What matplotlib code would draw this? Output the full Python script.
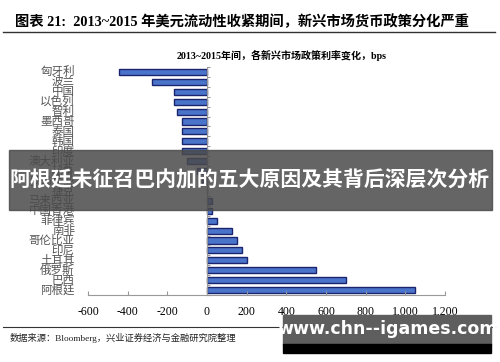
#Recreate the emerging-market policy rate bar chart with overlay banners
import numpy as np
import matplotlib.pyplot as plt
from matplotlib.ticker import FuncFormatter

#Chart data, top row first
countries = ['匈牙利', '波兰', '中国', '以色列', '智利', '墨西哥', '泰国', '韩国', '印度',
             '澳大利亚', '秘鲁', '罗马尼亚', '捷克', '马来西亚', '中国香港', '菲律宾', '南非',
             '哥伦比亚', '印尼', '土耳其', '俄罗斯', '巴西', '阿根廷']
rate_change = [-445, -275, -165, -165, -150, -125, -125, -125, -125,
               -100, -50, -25, 0, 25, 25, 50, 125,
               150, 175, 200, 550, 700, 1050]
x_ticks = [-600, -400, -200, 0, 200, 400, 600, 800, 1000, 1200]

header = '图表 21:  2013~2015 年美元流动性收紧期间，新兴市场货币政策分化严重'
chart_title = '2013~2015年间，各新兴市场政策利率变化，bps'
source = '数据来源：Bloomberg，兴业证券经济与金融研究院整理'
banner = '阿根廷未征召巴内加的五大原因及其背后深层次分析'
watermark = 'www.chn--igames.com'

fonts = ['Liberation Serif', 'Noto Sans CJK SC', 'DejaVu Sans']
plt.rcParams['font.family'] = fonts

fig = plt.figure(figsize=(5, 3.62), dpi=100)
ax = fig.add_axes([0.176, 0.185, 0.714, 0.63])

#Bars
y_pos = np.arange(len(countries))
ax.barh(y_pos, rate_change, height=0.62, color='#4a74c9', edgecolor='#1c2470', linewidth=1.0)
ax.set_ylim(len(countries) - 0.5, -0.5)
ax.set_xlim(x_ticks[0], x_ticks[-1])

#Axis styling: vertical axis sits on zero, ticks at category boundaries
for side in ['top', 'right']:
    ax.spines[side].set_visible(False)
ax.spines['left'].set_position(('data', 0))
ax.spines['left'].set_color('#999999')
ax.spines['bottom'].set_color('#999999')
ax.set_yticks(np.arange(-0.5, len(countries)))
ax.set_yticklabels([])
ax.tick_params(axis='y', direction='in', length=2.5, color='#999999')
ax.set_xticks(x_ticks)
ax.xaxis.set_major_formatter(FuncFormatter(lambda v, p: f'{int(v):,}'))
ax.tick_params(axis='x', direction='in', length=3, color='#999999', labelsize=8.5, pad=8)

#Country names on the left
for y, name in zip(y_pos, countries):
    ax.text(-0.037, y, name, transform=ax.get_yaxis_transform(), ha='right', va='center',
            fontsize=8.3, color='#555555', family=['Noto Sans CJK SC'])

#Header, title and source line
fig.text(0.03, 0.94, header, fontsize=10.3, fontweight='bold', va='center')
fig.add_artist(plt.Line2D([0.006, 0.99], [0.912, 0.912], color='#333333', lw=1.0))
fig.text(0.563, 0.848, chart_title, fontsize=7.2, fontweight='bold', ha='center', va='center')
fig.add_artist(plt.Line2D([0.006, 0.99], [0.097, 0.097], color='#333333', lw=0.8))
fig.text(0.02, 0.066, source, fontsize=6.7, va='center', color='#222222')

#Dark banner across the middle
fig.patches.append(plt.Rectangle((0.018, 0.42), 0.966, 0.166, transform=fig.transFigure,
                                 color='#4a4a4a', alpha=0.85, zorder=5))
fig.text(0.5, 0.503, banner, fontsize=15, fontweight='bold', color='white', ha='center',
         va='center', family=['Noto Sans CJK SC'], zorder=6)

#Watermark box bottom right
fig.patches.append(plt.Rectangle((0.566, 0.047), 0.416, 0.083, transform=fig.transFigure,
                                 color='#5e5e5e', zorder=5))
fig.patches.append(plt.Rectangle((0.566, 0.025), 0.416, 0.024, transform=fig.transFigure,
                                 color='black', zorder=5))
fig.text(0.775, 0.09, watermark, fontsize=12.5, fontweight='bold', color='white', ha='center',
         va='center', family=['DejaVu Sans'], zorder=6)

fig.savefig('out.png', dpi=100)
